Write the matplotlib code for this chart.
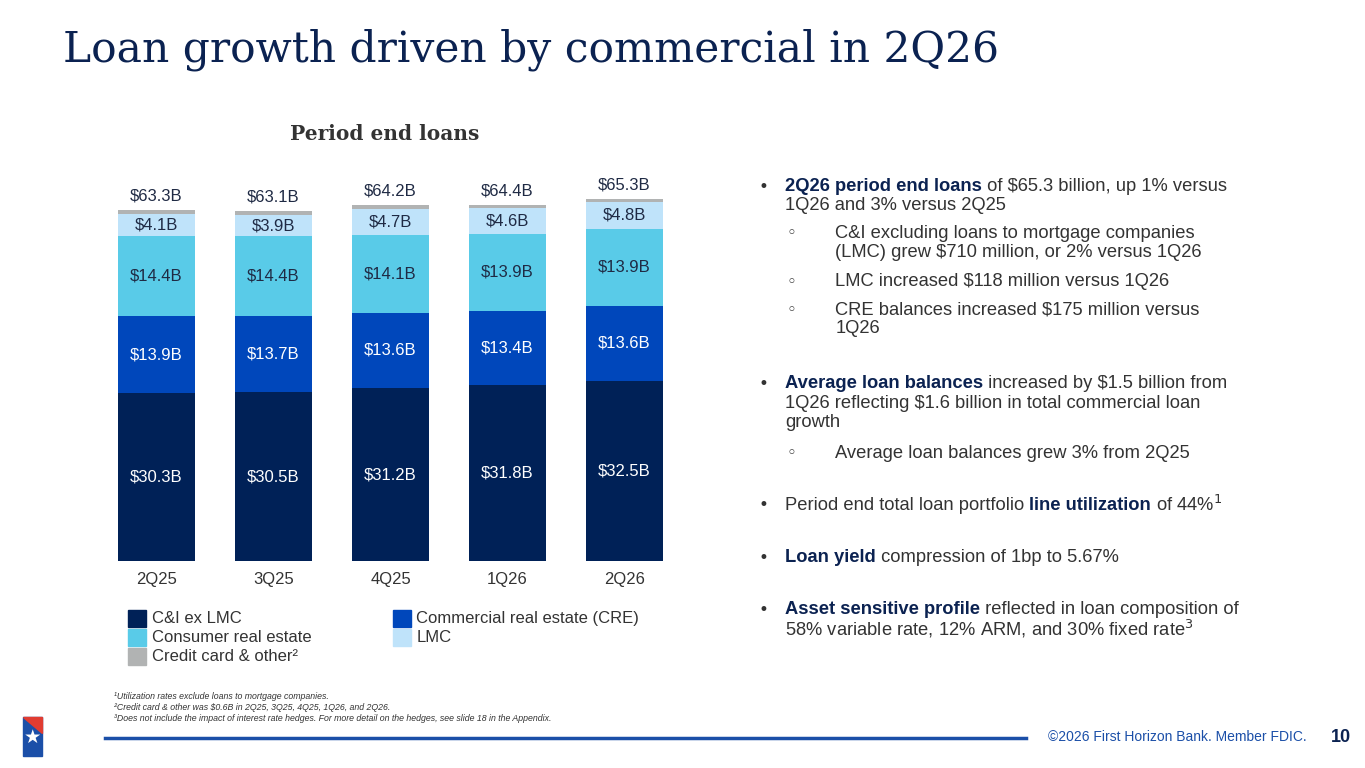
import numpy as np
import matplotlib
matplotlib.use("Agg")
from matplotlib import pyplot as plt
from matplotlib.patches import Rectangle, Polygon

quarters = ["2Q25", "3Q25", "4Q25", "1Q26", "2Q26"]
ci_ex_lmc = [30.3, 30.5, 31.2, 31.8, 32.5]
cre = [13.9, 13.7, 13.6, 13.4, 13.6]
consumer_re = [14.4, 14.4, 14.1, 13.9, 13.9]
lmc = [4.1, 3.9, 4.7, 4.6, 4.8]
credit_card = [0.6, 0.6, 0.6, 0.6, 0.6]
totals = ["$63.3B", "$63.1B", "$64.2B", "$64.4B", "$65.3B"]

navy = "#0B2251"
text_c = "#1F2A44"
series = [
    (ci_ex_lmc, "#002157", "C&I ex LMC", "white"),
    (cre, "#0047BB", "Commercial real estate (CRE)", "white"),
    (consumer_re, "#59CBE8", "Consumer real estate", text_c),
    (lmc, "#BFE3FA", "LMC", text_c),
    (credit_card, "#B1B3B3", "Credit card & other\u00b2", None),
]

plt.rcParams["font.family"] = ["Liberation Sans", "DejaVu Sans"]
fig = plt.figure(figsize=(13.65, 7.68), dpi=100)

fig.text(0.046, 0.935, "Loan growth driven by commercial in 2Q26", fontsize=30.5,
         color=navy, family="DejaVu Serif", va="center")
fig.text(0.282, 0.826, "Period end loans", fontsize=14.5, color="#333333",
         family="DejaVu Serif", weight="bold", ha="center", va="center")

ax = fig.add_axes([0.0718, 0.2695, 0.4286, 0.505])
x = np.arange(len(quarters))
bottom = np.zeros(len(quarters))
for vals, col, name, tc in series:
    v = np.array(vals)
    ax.bar(x, v, 0.66, bottom=bottom, color=col, label=name)
    if tc:
        for i in range(len(x)):
            ax.text(x[i], bottom[i] + v[i] / 2, f"${v[i]:.1f}B", ha="center",
                    va="center", color=tc, fontsize=12)
    bottom += v
for i in range(len(x)):
    ax.text(x[i], bottom[i] + 1.2, totals[i], ha="center", va="bottom",
            color=text_c, fontsize=12)
ax.set_xlim(-0.5, 4.5)
ax.set_ylim(0, 70)
ax.set_xticks(x, quarters)
ax.tick_params(axis="x", length=0, labelsize=12, colors="#333333", pad=8)
ax.set_yticks([])
for s in ax.spines.values():
    s.set_visible(False)

# legend
leg = [(0.094, 0.195, 0), (0.094, 0.170, 2), (0.094, 0.145, 4),
       (0.288, 0.195, 1), (0.288, 0.170, 3)]
for lx, ly, k in leg:
    fig.patches.append(Rectangle((lx, ly - 0.011), 0.013, 0.022, color=series[k][1],
                                 transform=fig.transFigure))
    fig.text(lx + 0.017, ly, series[k][2], fontsize=12, color="#333333", va="center")

# (level, y, has_mark, parts)
bullets = [
    (0, 0.757, True, [("2Q26 period end loans", True), (" of $65.3 billion, up 1% versus", False)]),
    (0, 0.732, False, [("1Q26 and 3% versus 2Q25", False)]),
    (1, 0.696, True, [("C&I excluding loans to mortgage companies", False)]),
    (1, 0.671, False, [("(LMC) grew $710 million, or 2% versus 1Q26", False)]),
    (1, 0.633, True, [("LMC increased $118 million versus 1Q26", False)]),
    (1, 0.597, True, [("CRE balances increased $175 million versus", False)]),
    (1, 0.572, False, [("1Q26", False)]),
    (0, 0.500, True, [("Average loan balances", True), (" increased by $1.5 billion from", False)]),
    (0, 0.475, False, [("1Q26 reflecting $1.6 billion in total commercial loan", False)]),
    (0, 0.450, False, [("growth", False)]),
    (1, 0.410, True, [("Average loan balances grew 3% from 2Q25", False)]),
    (0, 0.342, True, [("Period end total loan portfolio ", False), ("line utilization", True), (" of 44%$^1$", False)]),
    (0, 0.274, True, [("Loan yield", True), (" compression of 1bp to 5.67%", False)]),
    (0, 0.206, True, [("Asset sensitive profile", True), (" reflected in loan composition of", False)]),
    (0, 0.181, False, [("58% variable rate, 12% ARM, and 30% fixed rate$^3$", False)]),
]
fig.canvas.draw()
r = fig.canvas.get_renderer()
for level, by, has_mark, parts in bullets:
    mx = 0.556 if level == 0 else 0.576
    tx = 0.575 if level == 0 else 0.612
    if has_mark:
        fig.text(mx, by, "•" if level == 0 else "◦", fontsize=12, color="#333333",
                 va="center", family="DejaVu Sans")
    for s, bold in parts:
        t = fig.text(tx, by, s, fontsize=13.2, color=navy if bold else "#333333",
                     weight="bold" if bold else "normal", va="center")
        tx += t.get_window_extent(r).width / fig.bbox.width

foot = ["\u00b9Utilization rates exclude loans to mortgage companies.",
        "\u00b2Credit card & other was $0.6B in 2Q25, 3Q25, 4Q25, 1Q26, and 2Q26.",
        "\u00b3Does not include the impact of interest rate hedges. For more detail on the hedges, see slide 18 in the Appendix."]
for i, f in enumerate(foot):
    fig.text(0.0835, 0.0925 - i * 0.0137, f, fontsize=6.3,
             style="italic", color="#333333", va="center")

fig.add_artist(plt.Line2D([0.077, 0.752], [0.039, 0.039], color="#1B4FA8", lw=2.5))
fig.text(0.957, 0.040, "©2026 First Horizon Bank. Member FDIC.", fontsize=10,
         color="#1B4FA8", ha="right", va="center")
fig.text(0.975, 0.040, "10", fontsize=13, weight="bold", color=navy, va="center")

# logo
fig.patches.append(Rectangle((0.017, 0.016), 0.014, 0.05, color="#1B4FA8",
                             transform=fig.transFigure))
fig.patches.append(Polygon([[0.017, 0.066], [0.031, 0.066], [0.031, 0.045]],
                           color="#E03C31", transform=fig.transFigure))
fig.text(0.024, 0.040, "★", fontsize=14, color="white", ha="center", va="center",
         family="DejaVu Sans")

fig.savefig("out.png", dpi=100)
